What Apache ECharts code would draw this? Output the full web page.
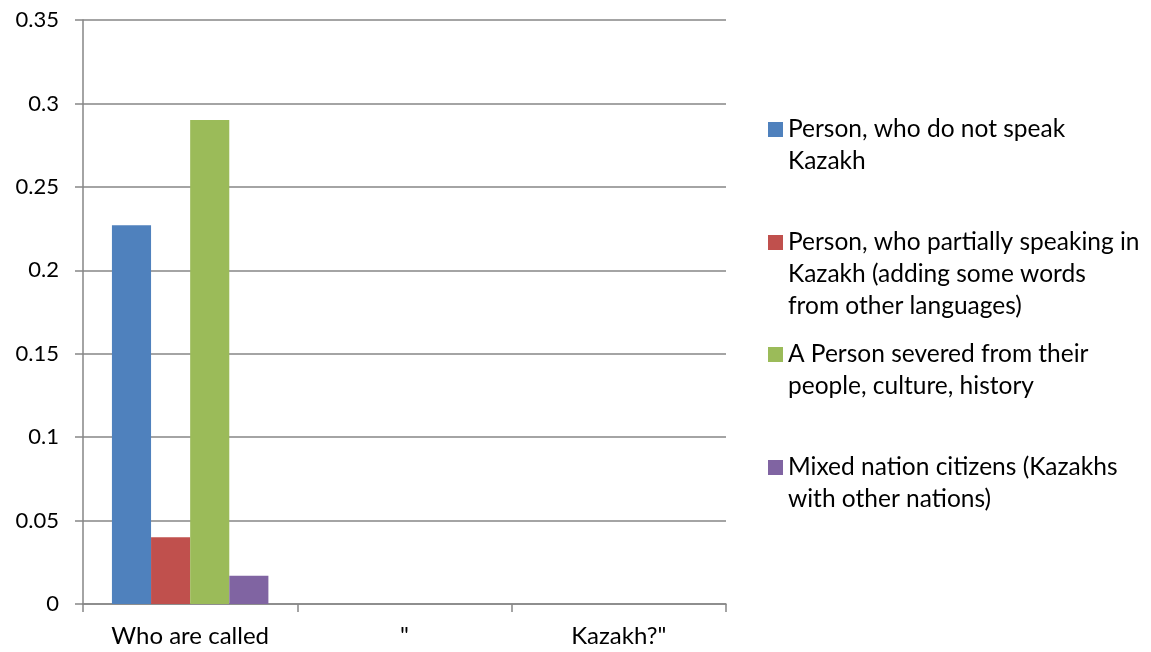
<!DOCTYPE html>
<html>
<head>
<meta charset="utf-8">
<script src="https://cdn.jsdelivr.net/npm/echarts@6/dist/echarts.min.js"></script>
<style>
html,body{margin:0;padding:0;background:#fff;}
#chart{width:1151px;height:652px;}
</style>
</head>
<body>
<div id="chart"></div>
<script>
const categories = ['Who are called', '"', 'Kazakh?"'];
const seriesNames = [
  'Person, who do not speak\nKazakh',
  'Person, who partially speaking in\nKazakh (adding some words\nfrom other languages)',
  'A Person severed from their\npeople, culture, history',
  'Mixed nation citizens (Kazakhs\nwith other nations)'
];
const notSpeak = [0.227, null, null];
const partially = [0.040, null, null];
const severed = [0.290, null, null];
const mixed = [0.017, null, null];
const yTicks = [0, 0.05, 0.1, 0.15, 0.2, 0.25, 0.3, 0.35];

const colors = ['#4F81BD', '#C0504D', '#9BBB59', '#8064A2'];
const seriesData = [notSpeak, partially, severed, mixed];
const FONT = 'Lato';
const LH = 32;
const legendCenters = [129.5, 242.5, 354.5, 467.5];

const legends = seriesNames.map((name, i) => {
  const n = name.split('\n').length;
  return {
    show: true,
    orient: 'vertical',
    left: 768,
    top: legendCenters[i] - (2 * n - 1) * LH / 2,
    padding: 0,
    icon: 'rect',
    itemWidth: 15,
    itemHeight: 15,
    itemGap: 0,
    selectedMode: false,
    data: [name],
    formatter: (nm) => '\n'.repeat(nm.split('\n').length - 1) + nm,
    textStyle: {
      fontFamily: FONT,
      fontSize: 24.5,
      color: '#000',
      lineHeight: LH
    }
  };
});

const chart = echarts.init(document.getElementById('chart'));
chart.setOption({
  animation: false,
  backgroundColor: '#fff',
  grid: { left: 83, right: 425, top: 20, bottom: 48, containLabel: false },
  legend: legends,
  xAxis: {
    type: 'category',
    data: categories,
    axisLine: { lineStyle: { color: '#868686', width: 1.5 } },
    axisTick: { show: true, length: 8, lineStyle: { color: '#868686', width: 1.5 } },
    axisLabel: { margin: 20, fontFamily: FONT, fontSize: 24, color: '#000' },
    splitLine: { show: false }
  },
  yAxis: {
    type: 'value',
    min: yTicks[0],
    max: yTicks[yTicks.length - 1],
    interval: 0.05,
    axisLine: { show: true, lineStyle: { color: '#868686', width: 1.5 } },
    axisTick: { show: true, length: 8, lineStyle: { color: '#868686', width: 1.5 } },
    axisLabel: { margin: 24, fontFamily: FONT, fontSize: 22, color: '#000' },
    splitLine: { show: true, lineStyle: { color: '#868686', width: 1.5 } }
  },
  series: seriesData.map((d, i) => ({
    name: seriesNames[i],
    type: 'bar',
    data: d,
    barGap: '0%',
    barCategoryGap: '27%',
    itemStyle: { color: colors[i] }
  }))
});
</script>
</body>
</html>
